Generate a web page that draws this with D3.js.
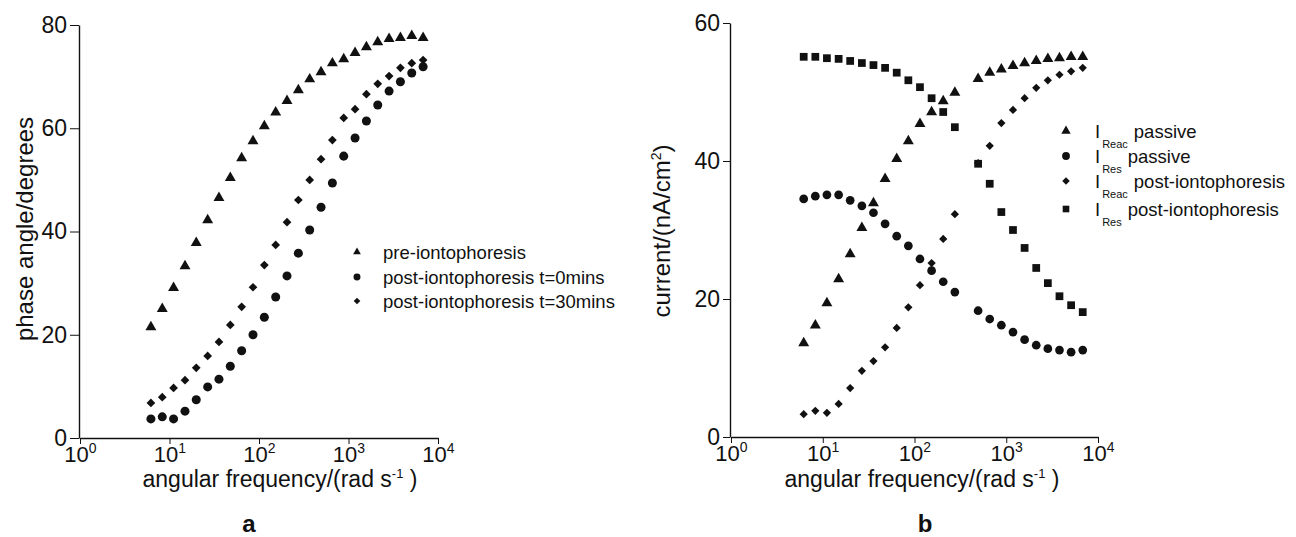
<!DOCTYPE html>
<html><head><meta charset="utf-8">
<script src="https://cdn.jsdelivr.net/npm/d3@7"></script>
<style>
body{margin:0;background:#fff}
svg{display:block}
text{font-family:"Liberation Sans",Arial,Helvetica,sans-serif;fill:#111}
</style>
</head><body>
<svg id="chart" width="1296" height="537"></svg>
<script>
// ---- data ----
const freqA = [6.2, 8.3, 11.1, 14.9, 19.9, 26.7, 35.7, 47.8, 64.0, 85.7, 114.7, 153.6, 205.6, 275.3, 368.5, 493.4, 660.5, 884.3, 1184, 1585, 2122, 2841, 3803, 5092, 6817];
const phasePre    = [21.5, 25.0, 29.1, 33.3, 37.8, 42.2, 46.5, 50.4, 54.2, 57.5, 60.4, 63.1, 65.3, 67.4, 69.5, 70.9, 72.6, 73.4, 74.6, 75.7, 76.7, 77.3, 77.5, 77.9, 77.5];
const phasePost0  = [3.7, 4.1, 3.7, 5.2, 7.4, 9.9, 11.4, 13.9, 16.9, 20.0, 23.4, 27.3, 31.4, 35.8, 40.3, 44.7, 49.4, 54.6, 58.1, 61.4, 64.5, 67.2, 69.0, 70.7, 71.9];
const phasePost30 = [6.8, 7.9, 9.7, 11.2, 13.6, 15.9, 18.6, 21.9, 25.4, 29.2, 33.5, 37.4, 41.8, 46.1, 50.0, 54.0, 57.7, 62.0, 63.7, 66.6, 68.6, 70.1, 71.7, 72.6, 73.2];

const freqB = [6.2, 8.3, 11.1, 14.9, 19.9, 26.7, 35.7, 47.8, 64.0, 85.7, 114.7, 153.6, 205.6, 275.3, 493.4, 660.5, 884.3, 1184, 1585, 2122, 2841, 3803, 5092, 6817];
const iReacPassive = [13.6, 16.2, 19.4, 22.9, 26.5, 30.3, 33.9, 37.4, 40.3, 42.9, 45.4, 47.1, 48.7, 49.9, 51.9, 52.8, 53.3, 53.8, 54.2, 54.5, 54.8, 54.9, 55.1, 55.1];
const iResPassive  = [34.5, 34.9, 35.1, 35.1, 34.3, 33.5, 32.5, 30.9, 29.1, 27.7, 25.8, 24.1, 22.5, 21.0, 18.3, 17.1, 16.2, 15.2, 14.1, 13.3, 12.8, 12.6, 12.3, 12.6];
const iReacPost    = [3.3, 3.8, 3.5, 4.8, 7.1, 9.6, 11.0, 13.0, 15.8, 18.8, 22.0, 25.2, 28.7, 32.3, 39.7, 42.2, 45.5, 47.4, 49.1, 50.6, 51.7, 52.5, 53.0, 53.5];
const iResPost     = [55.1, 55.1, 54.9, 54.8, 54.5, 54.2, 53.9, 53.5, 52.8, 51.7, 50.7, 49.1, 47.1, 44.9, 39.6, 36.7, 32.6, 30.0, 27.4, 24.5, 22.3, 20.4, 19.1, 18.1];

const xTicks = [1, 10, 100, 1000, 10000];
const xTickExp = ["0", "1", "2", "3", "4"];
const yTicksA = [0, 20, 40, 60, 80];
const yTicksB = [0, 20, 40, 60];
const legendA = ["pre-iontophoresis", "post-iontophoresis t=0mins", "post-iontophoresis t=30mins"];
const legendBsub = ["Reac", "Res", "Reac", "Res"];
const legendBtext = ["passive", "passive", "post-iontophoresis", "post-iontophoresis"];

// ---- drawing ----
const svg = d3.select("#chart");
const INK = "#111";

function marker(shape, size) {
  if (shape === "triangle") return {d: d3.symbol(d3.symbolTriangle, size)(), rot: 0};
  if (shape === "circle") return {d: d3.symbol(d3.symbolCircle, size)(), rot: 0};
  if (shape === "square") return {d: d3.symbol(d3.symbolSquare, size)(), rot: 0};
  return {d: d3.symbol(d3.symbolSquare, size)(), rot: 45}; // diamond
}

function panel(cfg) {
  const g = svg.append("g");
  const x = d3.scaleLog().domain([1, 1e4]).range([cfg.x0, cfg.x1]);
  const y = d3.scaleLinear().domain([0, cfg.ymax]).range([cfg.y0, cfg.y1]);

  // x axis
  const xa = g.append("g").attr("transform", `translate(0,${cfg.y0})`)
    .call(d3.axisBottom(x).tickValues(xTicks).tickFormat("").tickSize(6).tickSizeOuter(0));
  xa.selectAll(".tick").each(function(d, i) {
    const t = d3.select(this).append("text")
      .attr("y", 24).attr("text-anchor", "middle")
      .style("font-size", "22px").attr("fill", INK);
    t.append("tspan").text("10");
    t.append("tspan").attr("dy", -9).style("font-size", "14px").text(xTickExp[i]);
  });

  // y axis
  const ya = g.append("g").attr("transform", `translate(${cfg.x0 - 1},0)`)
    .call(d3.axisLeft(y).tickValues(cfg.yTicks).tickSize(cfg.tick).tickPadding(3).tickSizeOuter(0));
  ya.selectAll(".tick text").style("font-size", "23px").attr("fill", INK);

  g.selectAll(".domain").attr("stroke", INK).attr("stroke-width", 1.4);
  g.selectAll(".tick line").attr("stroke", INK).attr("stroke-width", 1);

  // axis titles
  const xt = g.append("text").attr("x", cfg.xTitleX).attr("y", 487)
    .attr("text-anchor", "middle").style("font-size", "23px");
  xt.append("tspan").text("angular frequency/(rad s");
  xt.append("tspan").attr("dy", -9).style("font-size", "13px").text("-1");
  xt.append("tspan").attr("dy", 9).text(" )");

  const yt = g.append("text")
    .attr("transform", `translate(${cfg.yTitleX},${cfg.yTitleY}) rotate(-90)`)
    .attr("text-anchor", "middle").style("font-size", "24px");
  yt.append("tspan").text(cfg.yTitle[0]);
  if (cfg.yTitle[1]) {
    yt.append("tspan").attr("dy", -9).style("font-size", "14px").text(cfg.yTitle[1]);
    yt.append("tspan").attr("dy", 9).text(cfg.yTitle[2]);
  }

  // series
  cfg.series.forEach(s => {
    const m = marker(s.shape, s.size);
    g.append("g").selectAll("path")
      .data(d3.zip(cfg.freq, s.values))
      .join("path")
      .attr("d", m.d)
      .attr("fill", INK)
      .attr("transform", d => `translate(${x(d[0])},${y(d[1])}) rotate(${m.rot})`);
  });

  // panel label
  g.append("text").attr("x", cfg.labelX).attr("y", 532).attr("text-anchor", "middle")
    .style("font-size", "24px").style("font-weight", "bold").text(cfg.label);
  return g;
}

panel({
  x0: 80, x1: 438, y0: 438, y1: 25, ymax: 80, yTicks: yTicksA, tick: 9,
  freq: freqA,
  series: [
    {values: phasePre, shape: "triangle", size: 52},
    {values: phasePost0, shape: "circle", size: 64},
    {values: phasePost30, shape: "diamond", size: 38}
  ],
  xTitleX: 280, yTitleX: 33, yTitleY: 229,
  yTitle: ["phase angle/degrees"],
  label: "a", labelX: 249
});

panel({
  x0: 731, x1: 1098, y0: 437, y1: 23, ymax: 60, yTicks: yTicksB, tick: 7,
  freq: freqB,
  series: [
    {values: iReacPassive, shape: "triangle", size: 52},
    {values: iResPassive, shape: "circle", size: 60},
    {values: iReacPost, shape: "diamond", size: 34},
    {values: iResPost, shape: "square", size: 60}
  ],
  xTitleX: 922, yTitleX: 670, yTitleY: 231,
  yTitle: ["current/(nA/cm", "2", ")"],
  label: "b", labelX: 925
});

// legend a
const legAShapes = [["triangle", 26], ["circle", 38], ["diamond", 22]];
const legAY = [252, 277, 301];
legendA.forEach((txt, i) => {
  const m = marker(legAShapes[i][0], legAShapes[i][1]);
  svg.append("path").attr("d", m.d).attr("fill", INK)
    .attr("transform", `translate(357,${legAY[i]}) rotate(${m.rot})`);
  svg.append("text").attr("x", 383).attr("y", legAY[i] + 6.5)
    .style("font-size", "18.5px").text(txt);
});

// legend b
const legBShapes = [["triangle", 38], ["circle", 48], ["diamond", 28], ["square", 44]];
const legBY = [131, 156, 181, 209];
legendBtext.forEach((txt, i) => {
  const m = marker(legBShapes[i][0], legBShapes[i][1]);
  svg.append("path").attr("d", m.d).attr("fill", INK)
    .attr("transform", `translate(1066,${legBY[i]}) rotate(${m.rot})`);
  const t = svg.append("text").attr("x", 1095).attr("y", legBY[i] + 6.5)
    .style("font-size", "18.5px");
  t.append("tspan").text("I");
  t.append("tspan").attr("dx", 2).attr("dy", 10).style("font-size", "11px").text(legendBsub[i]);
  t.append("tspan").attr("dx", 6).attr("dy", -10).text(txt);
});
</script>
</body></html>
